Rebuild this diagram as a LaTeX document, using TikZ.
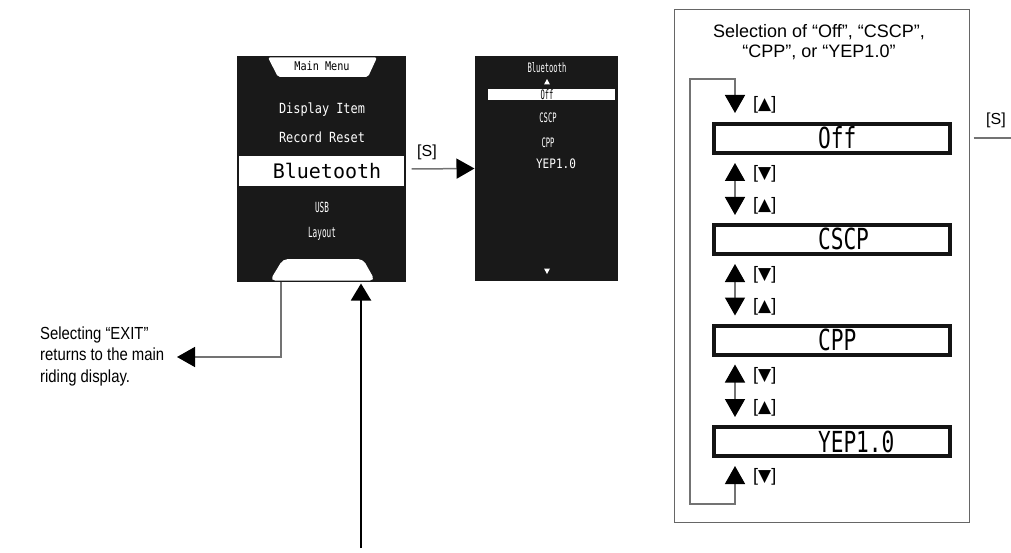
\documentclass[tikz,border=0pt]{standalone}
\usepackage{fontspec}
\setmainfont{Liberation Sans}
\newfontfamily\lcd{DejaVu Sans Mono}
\newfontfamily\lcdn[FakeStretch=0.85]{DejaVu Sans Mono}
\newfontfamily\lcdc[FakeStretch=0.55]{DejaVu Sans Mono}
\newfontfamily\lcdb[FakeStretch=0.73]{DejaVu Sans Mono}
\newfontfamily\symf{DejaVu Sans}
\newfontfamily\narrowf[FakeStretch=0.85]{Liberation Sans}
\usetikzlibrary{arrows.meta,calc}
\newcommand\tup{{\symf\fontsize{17}{17}\selectfont ▲}}
\newcommand\tdn{{\symf\fontsize{17}{17}\selectfont ▼}}
\begin{document}
\begin{tikzpicture}[x=1pt,y=-1pt,
  screen/.style={fill=black!90,draw=black!90,line width=1pt,inner sep=0pt},
  wbar/.style={fill=white,draw=none,inner sep=0pt},
  mtxt/.style={text=white,inner sep=0pt},
  selbox/.style={draw=black!92,fill=white,line width=4pt,inner sep=0pt,
    text width=236pt,align=left,minimum height=29pt,text height=21pt,text depth=0pt,
    font=\lcdb\fontsize{29}{29}\selectfont},
  keylab/.style={anchor=west,inner sep=0pt,font=\fontsize{18}{18}\selectfont},
  gline/.style={draw=black!55,line width=1.5pt},
  garrow/.style={gline,-{Triangle[width=20pt,length=18pt,color=black]}},
  dbl/.style={gline,{Triangle[width=20pt,length=18pt,color=black]}-{Triangle[width=20pt,length=18pt,color=black]}},
]
\useasboundingbox (0,0) rectangle (1011,553);

% ---------- main menu screen ----------
\node[screen,minimum width=168pt,minimum height=224pt] (ms) at (321,169) {};
\fill[white,rounded corners=2pt] (268,57.5) -- (377,57.5) -- (368,77) -- (278,77) -- cycle;
\node[inner sep=0pt,font=\lcdn\fontsize{12}{12}\selectfont] (mmt) at (322,66) {Main Menu};
\node[mtxt,font=\lcdn\fontsize{14}{14}\selectfont] (di) at (322,110) {Display Item};
\node[mtxt,font=\lcdn\fontsize{14}{14}\selectfont] (rr) at (322,137) {Record Reset};
\node[wbar,minimum width=165pt,minimum height=30pt] (btbar) at (321.5,171) {};
\node[inner sep=0pt,font=\lcd\fontsize{20}{20}\selectfont] (btt) at (327,171) {Bluetooth};
\node[mtxt,font=\lcdc\fontsize{14}{14}\selectfont] (usb) at (322,207) {USB};
\node[mtxt,font=\lcdc\fontsize{14}{14}\selectfont] (lay) at (322,234) {Layout};
\fill[white,rounded corners=5pt] (270,280.5) -- (283,259) -- (363,259) -- (375,280.5) -- cycle;

% ---------- bluetooth screen ----------
\node[screen,minimum width=142pt,minimum height=223pt] (bs) at (546,168.5) {};
\node[mtxt,font=\lcdc\fontsize{13}{13}\selectfont] (bst) at (547,68) {Bluetooth};
\fill[white] (544,84.5) -- (550,84.5) -- (547,79) -- cycle;
\node[wbar,minimum width=127pt,minimum height=11pt] (offbar) at (551.5,94.5) {};
\node[inner sep=0pt,font=\lcdc\fontsize{13}{13}\selectfont] (offs) at (547,95) {Off};
\node[mtxt,font=\lcdc\fontsize{13}{13}\selectfont] (cscps) at (548,118) {CSCP};
\node[mtxt,font=\lcdc\fontsize{13}{13}\selectfont] (cpps) at (548,143) {CPP};
\node[mtxt,font=\lcdn\fontsize{13}{13}\selectfont] (yeps) at (556,164) {YEP1.0};
\fill[white] (544,268.5) -- (550,268.5) -- (547,274) -- cycle;

% ---------- connectors between screens ----------
\draw[garrow] ([xshift=6pt]ms.east) -- (bs.west);
\node[inner sep=0pt,font=\fontsize{16}{16}\selectfont] (s1) at (427,152) {[S]};

\coordinate (exittip) at (177,357);
\draw[garrow] ([xshift=-40pt]ms.south) |- (exittip);
\node[anchor=west,inner sep=0pt,align=left,font=\narrowf\fontsize{17.5}{21.5}\selectfont] (exit) at (40,356)
  {Selecting “EXIT”\\returns to the main\\riding display.};

\coordinate (vb) at (361,548);
\draw[line width=2pt,-{Triangle[width=20pt,length=17pt]}] (vb) -- ([xshift=40pt,yshift=-2pt]ms.south);

% ---------- selection panel ----------
\node[draw=black!60,line width=1pt,inner sep=0pt,minimum width=295pt,minimum height=512pt] (panel) at (821.5,266) {};
\node[inner sep=0pt,align=center,font=\fontsize{18}{20}\selectfont] (title) at (819,42)
  {Selection of “Off”, “CSCP”,\\“CPP”, or “YEP1.0”};

\node[selbox] (off)  at (832,138.5) {\hspace*{104pt}Off};
\node[selbox] (cscp) at (832,239.5) {\hspace*{104pt}CSCP};
\node[selbox] (cpp)  at (832,340)   {\hspace*{104pt}CPP};
\node[selbox] (yep)  at (832,441.5) {\hspace*{104pt}YEP1.0};

\draw[dbl] ([xshift=23pt,yshift=-8pt]off.south west) -- ([xshift=23pt,yshift=8pt]cscp.north west);
\draw[dbl] ([xshift=23pt,yshift=-8pt]cscp.south west) -- ([xshift=23pt,yshift=8pt]cpp.north west);
\draw[dbl] ([xshift=23pt,yshift=-8pt]cpp.south west) -- ([xshift=23pt,yshift=8pt]yep.north west);
\coordinate (lt) at (690,79);
\draw[dbl] ([xshift=23pt,yshift=-8pt]yep.south west) -- ++(0,38) -| (lt) -| ([xshift=23pt,yshift=9pt]off.north west);

\node[keylab] (k0) at ([xshift=41pt,yshift=17pt]off.north west) {[\tup]};
\node[keylab] (k1) at ([xshift=41pt,yshift=-19pt]off.south west) {[\tdn]};
\node[keylab] (k2) at ([xshift=41pt,yshift=17pt]cscp.north west) {[\tup]};
\node[keylab] (k3) at ([xshift=41pt,yshift=-19pt]cscp.south west) {[\tdn]};
\node[keylab] (k4) at ([xshift=41pt,yshift=17pt]cpp.north west) {[\tup]};
\node[keylab] (k5) at ([xshift=41pt,yshift=-19pt]cpp.south west) {[\tdn]};
\node[keylab] (k6) at ([xshift=41pt,yshift=17pt]yep.north west) {[\tup]};
\node[keylab] (k7) at ([xshift=41pt,yshift=-19pt]yep.south west) {[\tdn]};

\coordinate (sout) at (1011,138);
\draw[gline] ([xshift=4pt]panel.east |- sout) -- (sout);
\node[inner sep=0pt,font=\fontsize{16}{16}\selectfont] (s2) at (996,120) {[S]};
\end{tikzpicture}
\end{document}
